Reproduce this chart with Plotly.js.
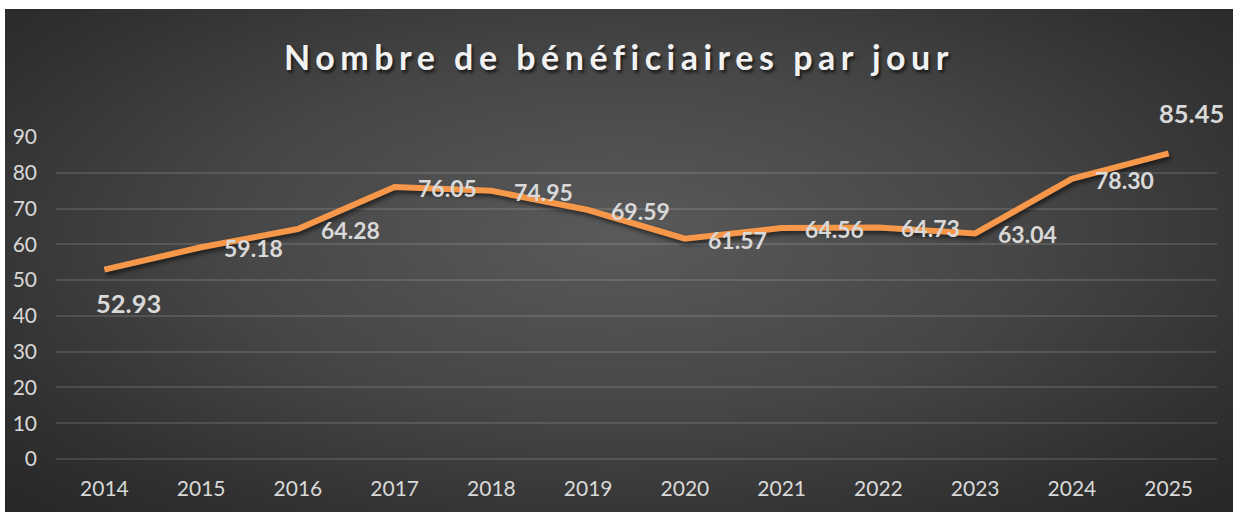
<!DOCTYPE html>
<html>
<head>
<meta charset="utf-8">
<script src="https://cdn.plot.ly/plotly-3.0.1.min.js"></script>
<style>
  html, body { margin: 0; padding: 0; background: #ffffff; }
  #chart {
    position: absolute; left: 5px; top: 9px; width: 1228px; height: 503px;
    background: radial-gradient(ellipse 72% 78% at 50% 45%, #5a5a5a 0%, #464646 45%, #303030 80%, #262626 100%);
  }
  #chart .scatterlayer .js-line { filter: drop-shadow(2px 3px 2px rgba(0,0,0,0.55)); }
</style>
</head>
<body>
<div id="chart"></div>
<script>
'use strict';

let years = ['2014', '2015', '2016', '2017', '2018', '2019', '2020', '2021', '2022', '2023', '2024', '2025'];
let beneficiaires = [52.93, 59.18, 64.28, 76.05, 74.95, 69.59, 61.57, 64.56, 64.73, 63.04, 78.30, 85.45];
let y_ticks = [0, 10, 20, 30, 40, 50, 60, 70, 80, 90];

let label_font = 'Lato, "Open Sans", sans-serif';

function make_labels(){
    let last = years.length - 1;
    return years.map(function(yr, i){
        let a = {
            x: i, y: beneficiaires[i],
            text: beneficiaires[i].toFixed(2),
            showarrow: false,
            xanchor: 'left', yanchor: 'middle',
            xshift: 21, yshift: -1,
            font: {family: label_font, size: 23, weight: 700, color: '#d9d9d9'}
        };
        if (i === 0){
            a.xanchor = 'center'; a.xshift = 24; a.yshift = -33;
            a.font.size = 25.5;
        } else if (i === last){
            a.xanchor = 'center'; a.xshift = 23; a.yshift = 40;
            a.font.size = 25.5;
        }
        return a;
    });
}

function draw(){
    var traces = [{
        x: years,
        y: beneficiaires,
        type: 'scatter',
        mode: 'lines',
        line: {color: '#f7974a', width: 6},
        hoverinfo: 'x+y'
    }];

    var layout = {
        width: 1228,
        height: 503,
        paper_bgcolor: 'rgba(0,0,0,0)',
        plot_bgcolor: 'rgba(0,0,0,0)',
        showlegend: false,
        margin: {l: 51, r: 16, t: 128, b: 53},
        title: {
            text: 'Nombre de bénéficiaires par jour',
            x: 0.5, xanchor: 'center',
            y: 0.903, yanchor: 'middle',
            font: {family: label_font, size: 34, weight: 700, color: '#f2f2f2',
                   shadow: '2px 3px 3px rgba(0,0,0,0.6)'}
        },
        xaxis: {
            type: 'category',
            range: [-0.5, years.length - 0.5],
            showgrid: false,
            zeroline: false,
            showline: false,
            ticks: '',
            ticklabelstandoff: 15,
            tickfont: {family: label_font, size: 21, color: '#d9d9d9'}
        },
        yaxis: {
            range: [0, 90],
            tickvals: y_ticks,
            showgrid: true,
            gridcolor: 'rgba(255,255,255,0.12)',
            gridwidth: 2,
            zeroline: true,
            zerolinecolor: 'rgba(255,255,255,0.12)',
            zerolinewidth: 2,
            showline: false,
            ticks: '',
            ticklabelstandoff: 18,
            tickfont: {family: label_font, size: 21, color: '#d9d9d9'}
        },
        annotations: make_labels()
    };

    Plotly.newPlot('chart', traces, layout, {displayModeBar: false}).then(function(){
        let t = document.querySelector('#chart .gtitle');
        if (t) t.style.letterSpacing = '5.5px';
    });
}

draw();
</script>
</body>
</html>
